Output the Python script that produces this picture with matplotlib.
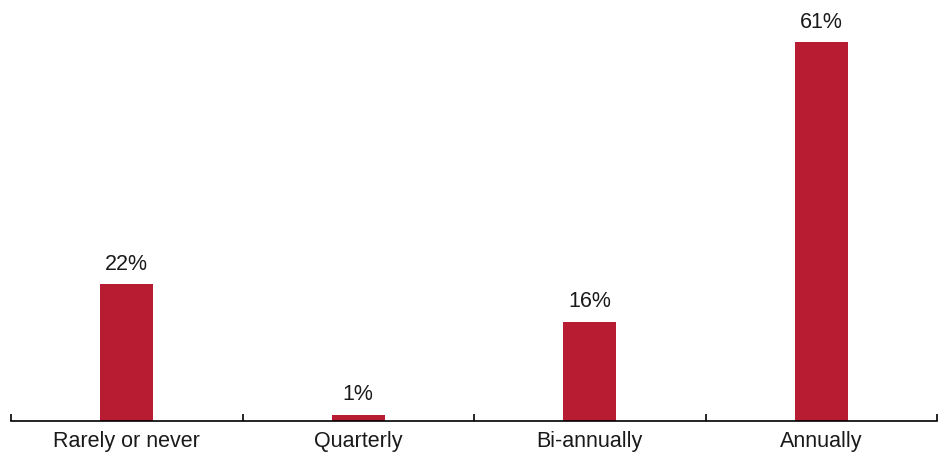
import matplotlib.pyplot as plt
import numpy as np

categories = ['Rarely or never', 'Quarterly', 'Bi-annually', 'Annually']
values = [22, 1, 16, 61]
labels = ['22%', '1%', '16%', '61%']

plt.rcParams['font.family'] = ['Liberation Sans', 'DejaVu Sans']

fig = plt.figure(figsize=(9.47, 4.54), dpi=100)
ax = fig.add_axes([11/947, 33/454, 926/947, 421/454])

x = np.arange(len(categories))
bars = ax.bar(x, values, width=0.23, color='#B81C32')

for b, lab in zip(bars, labels):
    ax.annotate(lab, (b.get_x() + b.get_width()/2, b.get_height()),
                xytext=(0, 7), textcoords='offset points',
                ha='center', va='bottom', fontsize=15.5, color='#1a1a1a')

ax.set_xlim(-0.5, len(categories) - 0.5)
ax.set_ylim(0, 67.8)

ax.set_xticks(x)
ax.set_xticklabels(categories, fontsize=15.5, color='#1a1a1a')
ax.tick_params(axis='x', which='major', length=0, pad=7)
ax.set_xticks(np.arange(-0.5, len(categories)), minor=True)
ax.tick_params(axis='x', which='minor', direction='in', length=5, width=1.2, color='black')

ax.set_yticks([])
for s in ['top', 'right', 'left']:
    ax.spines[s].set_visible(False)
ax.spines['bottom'].set_linewidth(1.2)

plt.savefig('out.png', dpi=100)
